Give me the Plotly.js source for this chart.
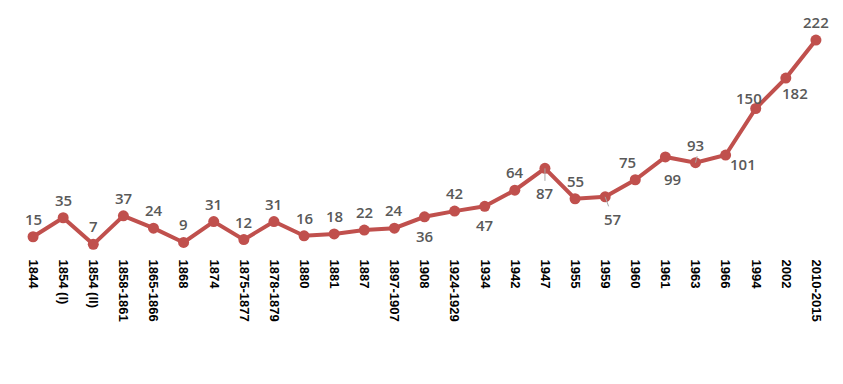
<!DOCTYPE html>
<html><head><meta charset="utf-8">
<script src="https://cdn.plot.ly/plotly-3.0.1.min.js"></script>
<style>html,body{margin:0;padding:0;background:#fff}#chart{width:843px;height:384px}</style>
</head><body><div id="chart"></div>
<script>
const categories = ["1844","1854 (I)","1854 (II)","1858-1861","1865-1866","1868","1874","1875-1877","1878-1879","1880","1881","1887","1897-1907","1908","1924-1929","1934","1942","1947","1955","1959","1960","1961","1963","1966","1994","2002","2010-2015"];
const values = [15,35,7,37,24,9,31,12,31,16,18,22,24,36,42,47,64,87,55,57,75,99,93,101,150,182,222];
const labelPos = ["t","t","t","t","t","t","t","t","t","t","t","t","t","b","t","b","t","bf","t","bd","tl","bd","t","r","tl2","br","t"];

const shifts = {t:[0,18], b:[0,-19], bf:[0,-25], bd:[7,-22], r:[17,-9], br:[9,-15], tl:[-8,18], tl2:[-7,11]};
const leaders = {17:[0,-14], 19:[4,-11], 22:[2,8]};
const annotations = categories.map((c,i)=>{
  const s = shifts[labelPos[i]];
  return {x:i, y:values[i], text:String(values[i]), showarrow:false,
    xshift:s[0], yshift:s[1],
    font:{family:"Open Sans", size:15, color:"#595959", weight:600}};
});
Object.keys(leaders).forEach(k=>{
  const i=+k, d=leaders[k];
  annotations.push({x:i, y:values[i], ax:d[0], ay:-d[1], showarrow:true, arrowhead:0,
    arrowwidth:1, arrowcolor:"#A6A6A6", text:"", standoff:0});
});

Plotly.newPlot("chart",[{
  type:"scatter", mode:"lines+markers", x:categories, y:values,
  line:{color:"#C0504D", width:4},
  marker:{color:"#C0504D", size:11},
  hoverinfo:"skip"
}],{
  width:843, height:384,
  margin:{l:18,r:12,t:23,b:133},
  paper_bgcolor:"#fff", plot_bgcolor:"#fff",
  showlegend:false,
  xaxis:{type:"category", range:[-0.5,26.5], showgrid:false, zeroline:false, showline:false,
    tickangle:90, ticks:"outside", ticklen:5, tickcolor:"rgba(0,0,0,0)",
    tickfont:{family:"Liberation Sans", size:13, color:"#000", weight:"bold"}},
  yaxis:{range:[0,240], visible:false, showgrid:false, zeroline:false},
  annotations:annotations
},{displayModeBar:false, staticPlot:true});
</script></body></html>
